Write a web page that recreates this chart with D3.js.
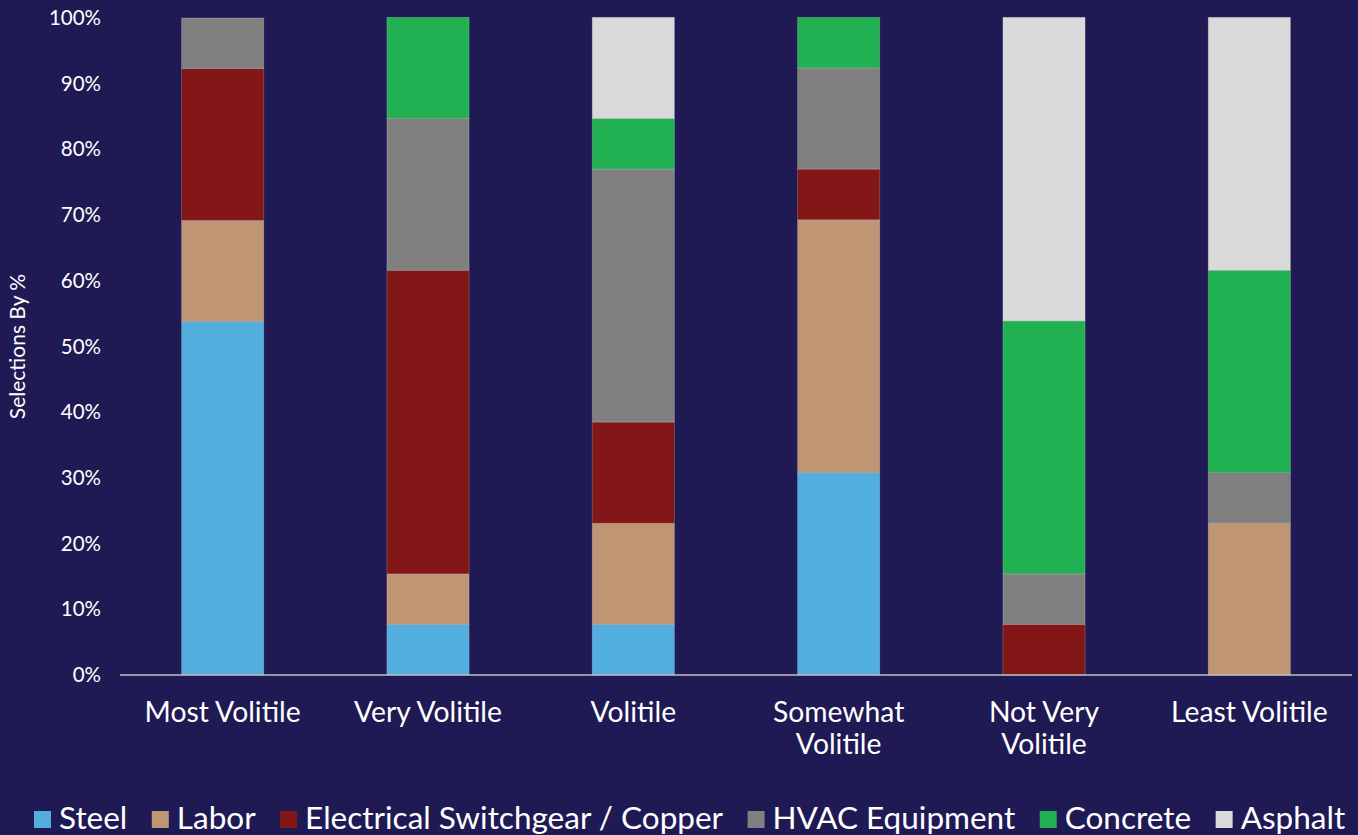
<!DOCTYPE html>
<html>
<head>
<meta charset="utf-8">
<script src="https://cdn.jsdelivr.net/npm/d3@7"></script>
<style>
  html, body { margin: 0; padding: 0; background: #201a54; }
  svg { display: block; font-family: Lato, "Open Sans", sans-serif; }
</style>
</head>
<body>
<svg id="chart" width="1358" height="835"></svg>
<script>
// Volatility ranking categories (x axis)
const categories = ["Most Volitile", "Very Volitile", "Volitile", "Somewhat Volitile", "Not Very Volitile", "Least Volitile"];
// Share of selections (%) for each material, per category
const steel      = [53.8, 7.7, 7.7, 30.8, 0, 0];
const labor      = [15.4, 7.7, 15.4, 38.5, 0, 23.1];
const electrical = [23.1, 46.2, 15.4, 7.7, 7.7, 0];
const hvac       = [7.7, 23.1, 38.5, 15.4, 7.7, 7.7];
const concrete   = [0, 15.4, 7.7, 7.7, 38.5, 30.8];
const asphalt    = [0, 0, 15.4, 0, 46.2, 38.5];
const seriesNames = ["Steel", "Labor", "Electrical Switchgear / Copper", "HVAC Equipment", "Concrete", "Asphalt"];
const seriesColors = ["#53aee0", "#c09574", "#831717", "#808080", "#21b153", "#d9d9d9"];
const yTicks = [0, 10, 20, 30, 40, 50, 60, 70, 80, 90, 100];

const seriesValues = [steel, labor, electrical, hvac, concrete, asphalt];
const rows = categories.map((c, i) => {
  const r = { category: c };
  seriesNames.forEach((s, j) => r[s] = seriesValues[j][i]);
  return r;
});

const svg = d3.select("#chart");
const plotLeft = 120, plotRight = 1352, plotTop = 18, plotBottom = 675;

const x = d3.scaleBand().domain(categories).range([plotLeft, plotRight]).paddingInner(0.6).paddingOuter(0.3);
const y = d3.scaleLinear().domain([0, 100]).range([plotBottom, plotTop]);

const stacked = d3.stack().keys(seriesNames)(rows);

svg.append("g").selectAll("g")
  .data(stacked)
  .join("g")
  .attr("fill", (d, i) => seriesColors[i])
  .selectAll("rect")
  .data(d => d.filter(p => p[1] - p[0] > 0))
  .join("rect")
  .attr("x", d => x(d.data.category))
  .attr("width", x.bandwidth())
  .attr("y", d => y(d[1]))
  .attr("height", d => y(d[0]) - y(d[1]))
  .attr("stroke", "rgba(255,255,255,0.25)")
  .attr("stroke-width", 0.8);

// Baseline
svg.append("line")
  .attr("x1", plotLeft).attr("x2", plotRight)
  .attr("y1", y(0)).attr("y2", y(0))
  .attr("stroke", "#bfbfbf").attr("stroke-width", 1.5);

// Y axis tick labels
const yAxis = d3.axisLeft(y).tickValues(yTicks).tickFormat(d => d + "%").tickSize(0).tickPadding(0);
const yg = svg.append("g").attr("transform", "translate(101,0)").call(yAxis);
yg.select(".domain").remove();
yg.selectAll("text").attr("fill", "#ffffff").style("font-size", "20.5px").style("font-family", "Lato, sans-serif");

// Y axis title
svg.append("text")
  .attr("transform", `translate(25,${(plotTop + plotBottom) / 2}) rotate(-90)`)
  .attr("text-anchor", "middle")
  .attr("fill", "#ffffff")
  .style("font-size", "21px")
  .text("Selections By %");

// Category labels (wrapped to two lines where needed)
const wrapMap = { "Somewhat Volitile": ["Somewhat", "Volitile"], "Not Very Volitile": ["Not Very", "Volitile"] };
const xg = svg.append("g");
categories.forEach(c => {
  const lines = wrapMap[c] || [c];
  const cx = x(c) + x.bandwidth() / 2;
  const t = xg.append("text")
    .attr("x", cx)
    .attr("y", 722)
    .attr("text-anchor", "middle")
    .attr("fill", "#ffffff")
    .style("font-size", "28.3px");
  lines.forEach((l, i) => t.append("tspan").attr("x", cx).attr("dy", i === 0 ? 0 : 32).text(l));
});

// Legend
const legend = svg.append("g");
let lx = 34;
seriesNames.forEach((s, i) => {
  legend.append("rect").attr("x", lx).attr("y", 811).attr("width", 17).attr("height", 17).attr("fill", seriesColors[i]);
  const t = legend.append("text")
    .attr("x", lx + 25).attr("y", 829)
    .attr("fill", "#ffffff")
    .style("font-size", "31.5px")
    .text(s);
  lx += 25 + t.node().getComputedTextLength() + 24.5;
});
</script>
</body>
</html>
